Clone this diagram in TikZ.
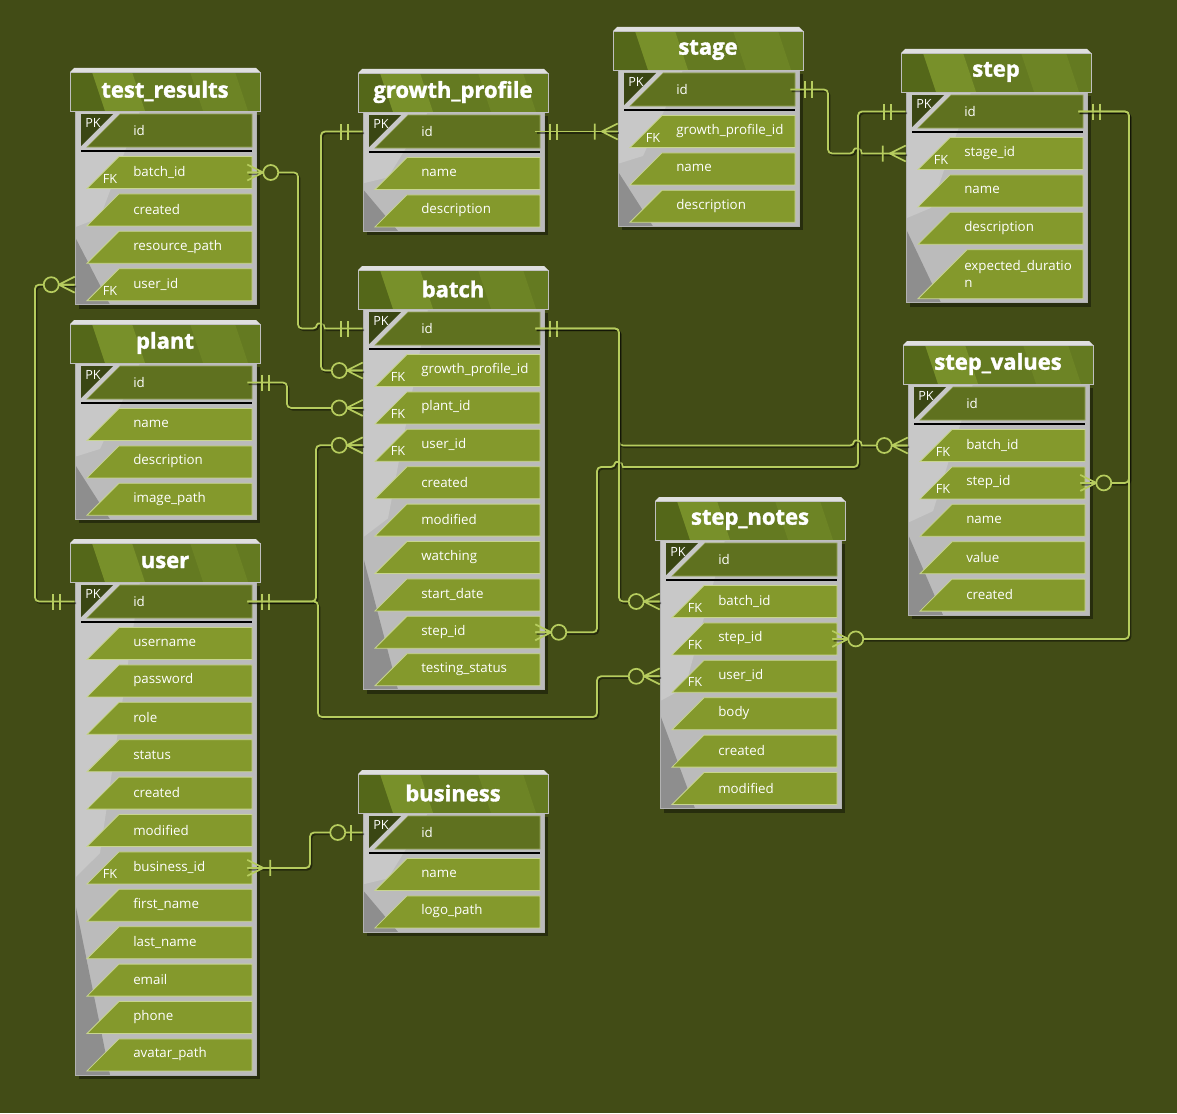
\documentclass[tikz,border=0pt]{standalone}
\usepackage{fontspec}
\setmainfont{Open Sans}
\newfontfamily\ttlfont[BoldFeatures={FakeBold=1.6}]{Open Sans}
\usetikzlibrary{calc}
\definecolor{bg}{HTML}{424C16}
\definecolor{rowc}{HTML}{84992C}
\definecolor{rowln}{HTML}{C8D58F}
\definecolor{pkc}{HTML}{5F711F}
\definecolor{pkdk}{HTML}{3A4613}
\definecolor{hdrc}{HTML}{647A21}
\definecolor{hdrdk}{HTML}{546719}
\definecolor{hdrlt}{HTML}{78902A}
\definecolor{bodyc}{HTML}{BBBBBB}
\definecolor{bodylt}{HTML}{C8C8C8}
\definecolor{bodydk}{HTML}{8E8E8E}
\definecolor{connc}{HTML}{B6CC5E}
\tikzset{
 rowanchor/.style={draw=none, minimum width=129pt, inner sep=0pt},
 fieldtxt/.style={text=white, font=\fontsize{10}{12.5}\selectfont, anchor=west, inner sep=0pt, align=left},
 keytxt/.style={text=white, font=\fontsize{9.5}{11}\selectfont, inner sep=0pt},
 ttltxt/.style={text=white, font=\ttlfont\fontsize{16.5}{18}\selectfont\bfseries, inner sep=0pt},
 conn/.style={draw=connc, line width=1.3pt, rounded corners=3pt,
   preaction={draw=black, opacity=0.45, line width=1.3pt, transform canvas={shift={(1.1pt,-1.3pt)}}}},
 endmark/.style={draw=connc, line width=1.3pt},
 crowzm/.pic={\draw[endmark] (0,-8)--(16,0) (0,0)--(16,0) (0,8)--(16,0);
   \draw[endmark, fill=bg] (23.5,0) circle[radius=7.5];},
 crowone/.pic={\draw[endmark] (15,-8)--(15,8) (22,-8)--(22,8);},
 crowom/.pic={\draw[endmark] (0,-8)--(16,0) (0,0)--(16,0) (0,8)--(16,0) (23,-8)--(23,8);},
 crowzo/.pic={\draw[endmark] (12,-8)--(12,8); \draw[endmark, fill=bg] (25,0) circle[radius=7.5];},
}
\newcommand\ertbl[7]{%
\pgfmathsetmacro\HL{#2}%
\pgfmathsetmacro\HB{#3}%
\pgfmathsetmacro\HR{#2+190}%
\pgfmathsetmacro\BB{#3+81.5+37.4*(#5-1)+#6}%
\fill[black,opacity=0.4] (\HL+9,\HB+4) rectangle (\HR,\BB+4);
\fill[bodyc] (\HL+5,\HB) rectangle (\HR-4,\BB);
\fill[bodylt] (\HL+5,\HB) -- (\HL+70,\HB) -- (\HL+30,{\HB+0.55*(\BB-\HB)}) -- (\HL+5,{\HB+0.6*(\BB-\HB)}) -- cycle;
\fill[bodydk] (\HL+5,{\HB+0.65*(\BB-\HB)}) -- (\HL+40,\BB) -- (\HL+5,\BB) -- cycle;
\draw[gray!60, line width=0.5pt] (\HL+5,\HB) rectangle (\HR-4,\BB);
\fill[hdrc] (\HL,\HB-39) rectangle (\HR,\HB);
\fill[hdrdk] (\HL,\HB-39) -- (\HL+22,\HB-39) -- (\HL+35,\HB) -- (\HL,\HB) -- cycle;
\fill[hdrlt] (\HL+22,\HB-39) -- (\HL+62,\HB-39) -- (\HL+75,\HB) -- (\HL+35,\HB) -- cycle;
\fill[hdrlt!45!hdrc] (\HL+120,\HB-39) -- (\HL+165,\HB-39) -- (\HL+178,\HB) -- (\HL+133,\HB) -- cycle;
\draw[gray!50!white, line width=0.6pt] (\HL,\HB-39) rectangle (\HR,\HB);
\fill[gray!25!white] (\HL,\HB-39) -- (\HL+4,\HB-43) -- (\HR-4,\HB-43) -- (\HR,\HB-39) -- cycle;
\node[ttltxt] (#1) at (\HL+95,\HB-20) {#4};
\fill[pkdk] (\HL+11,\HB+3) -- (\HL+43,\HB+3) -- (\HL+11,\HB+35) -- cycle;
\fill[pkc, draw=rowln!50!pkc, line width=0.5pt] (\HL+50,\HB+3) -- (\HR-8,\HB+3) -- (\HR-8,\HB+36) -- (\HL+17,\HB+36) -- cycle;
\node[rowanchor, minimum height=24.75pt] (#1-pk) at (\HL+91,\HB+19.5) {};
\node[keytxt] at (\HL+23,\HB+12) {PK};
\node[fieldtxt] at (\HL+63,\HB+19.5) {id};
\draw[black, line width=0.8pt] (\HL+11,\HB+40) -- (\HR-8,\HB+40);
\foreach \lab/\fk/\ex [count=\i] in {#7} {
 \pgfmathsetmacro\rt{\HB+45.5+37.4*(\i-1)}
 \pgfmathsetmacro\rb{\rt+32+\ex}
 \pgfmathsetmacro\rc{(\rt+\rb)/2}
 \fill[rowc, draw=rowln, line width=0.6pt] (\HL+17+\rb-\rt,\rt) -- (\HR-8,\rt) -- (\HR-8,\rb) -- (\HL+17,\rb) -- cycle;
 \node[rowanchor, minimum height={(\rb-\rt)*0.75pt}] (#1-\i) at (\HL+91,\rc) {};
 \node[fieldtxt] at (\HL+63,\rc-0.5) {\lab};
 \ifnum\fk=1 \node[keytxt] at (\HL+40,\rc+6) {FK};\fi
}
}
\begin{document}
\begin{tikzpicture}[x=0.75pt,y=-0.75pt]
\useasboundingbox (0,0) rectangle (1177,1113);
\fill[bg] (0,0) rectangle (1177,1113);

\ertbl{tr}{70}{111}{test\_results}{4}{0}{batch\_id/1/0, created/0/0, resource\_path/0/0, user\_id/1/0}
\ertbl{gp}{358}{112}{growth\_profile}{2}{0}{name/0/0, description/0/0}
\ertbl{stg}{613}{70}{stage}{3}{0}{growth\_profile\_id/1/0, name/0/0, description/0/0}
\ertbl{stp}{901}{92}{step}{4}{17}{stage\_id/1/0, name/0/0, description/0/0, expected\_duratio\\n/0/17}
\ertbl{pl}{70}{363}{plant}{3}{0}{name/0/0, description/0/0, image\_path/0/0}
\ertbl{bt}{358}{309}{batch}{9}{0}{growth\_profile\_id/1/0, plant\_id/1/0, user\_id/1/0, created/0/0, modified/0/0, watching/0/0, start\_date/0/0, step\_id/0/0, testing\_status/0/0}
\ertbl{sv}{903}{384}{step\_values}{5}{0}{batch\_id/1/0, step\_id/1/0, name/0/0, value/0/0, created/0/0}
\ertbl{us}{70}{582}{user}{12}{0}{username/0/0, password/0/0, role/0/0, status/0/0, created/0/0, modified/0/0, business\_id/1/0, first\_name/0/0, last\_name/0/0, email/0/0, phone/0/0, avatar\_path/0/0}
\ertbl{bz}{358}{813}{business}{2}{0}{name/0/0, logo\_path/0/0}
\ertbl{sn}{655}{540}{step\_notes}{6}{0}{batch\_id/1/0, step\_id/1/0, user\_id/1/0, body/0/0, created/0/0, modified/0/0}

% test_results.batch_id -> batch.id
\draw[conn] (tr-1.east) -- (298,0 |- tr-1.east) -- (298,0 |- bt-pk.west) -- (317,0 |- bt-pk.west) [sharp corners] .. controls +(0,-6) and +(0,-6) .. ++(8,0) [rounded corners=3pt] -- (bt-pk.west);
\pic at (tr-1.east) {crowzm};
\pic[rotate=180] at (bt-pk.west) {crowone};
% growth_profile.id -> batch.growth_profile_id
\draw[conn] (gp-pk.west) -- (321,0 |- gp-pk.west) -- (321,0 |- bt-1.west) -- (bt-1.west);
\pic[rotate=180] at (gp-pk.west) {crowone};
\pic[rotate=180] at (bt-1.west) {crowzm};
% plant.id -> batch.plant_id
\draw[conn] (pl-pk.east) -- (287,0 |- pl-pk.east) -- (287,0 |- bt-2.west) -- (bt-2.west);
\pic at (pl-pk.east) {crowone};
\pic[rotate=180] at (bt-2.west) {crowzm};
% user.id -> batch.user_id
\draw[conn] (us-pk.east) -- (316,0 |- us-pk.east) -- (316,0 |- bt-3.west) -- (bt-3.west);
\pic at (us-pk.east) {crowone};
\pic[rotate=180] at (bt-3.west) {crowzm};
% user.id -> step_notes.user_id
\draw[conn] (us-pk.east) -- (318,0 |- us-pk.east) -- (318,717) -- (597,717) -- (597,0 |- sn-3.west) -- (sn-3.west);
\pic[rotate=180] at (sn-3.west) {crowzm};
% user.id -> test_results.user_id
\draw[conn] (us-pk.west) -- (35,0 |- us-pk.west) -- (35,0 |- tr-4.west) -- (tr-4.west);
\pic[rotate=180] at (us-pk.west) {crowone};
\pic[rotate=180] at (tr-4.west) {crowzm};
% user.business_id -> business.id
\draw[conn] (us-7.east) -- (310,0 |- us-7.east) -- (310,0 |- bz-pk.west) -- (bz-pk.west);
\pic at (us-7.east) {crowom};
\pic[rotate=180] at (bz-pk.west) {crowzo};
% growth_profile.id -> stage.growth_profile_id
\draw[conn] (gp-pk.east) -- (stg-1.west);
\pic at (gp-pk.east) {crowone};
\pic[rotate=180] at (stg-1.west) {crowom};
% stage.id -> step.stage_id
\draw[conn] (stg-pk.east) -- (828,0 |- stg-pk.east) -- (828,0 |- stp-1.west) -- (854,0 |- stp-1.west) [sharp corners] .. controls +(0,-6) and +(0,-6) .. ++(8,0) [rounded corners=3pt] -- (stp-1.west);
\pic at (stg-pk.east) {crowone};
\pic[rotate=180] at (stp-1.west) {crowom};
% batch.step_id -> step.id
\draw[conn] (bt-8.east) -- (597,0 |- bt-8.east) -- (597,467) -- (615,467) [sharp corners] .. controls +(0,-6) and +(0,-6) .. ++(8,0) [rounded corners=3pt] -- (858,467) -- (858,0 |- stp-pk.west) -- (stp-pk.west);
\pic at (bt-8.east) {crowzm};
\pic[rotate=180] at (stp-pk.west) {crowone};
% batch.id -> step_values.batch_id
\draw[conn] (bt-pk.east) -- (619,0 |- bt-pk.east) -- (619,0 |- sv-1.west) -- (854,0 |- sv-1.west) [sharp corners] .. controls +(0,-6) and +(0,-6) .. ++(8,0) [rounded corners=3pt] -- (sv-1.west);
\pic at (bt-pk.east) {crowone};
\pic[rotate=180] at (sv-1.west) {crowzm};
% batch.id -> step_notes.batch_id
\draw[conn] (bt-pk.east) -- (619,0 |- bt-pk.east) -- (619,0 |- sn-1.west) -- (sn-1.west);
\pic[rotate=180] at (sn-1.west) {crowzm};
% step.id -> step_values.step_id
\draw[conn] (stp-pk.east) -- (1129,0 |- stp-pk.east) -- (1129,0 |- sv-2.east) -- (sv-2.east);
\pic at (stp-pk.east) {crowone};
\pic at (sv-2.east) {crowzm};
% step.id -> step_notes.step_id
\draw[conn] (stp-pk.east) -- (1129,0 |- stp-pk.east) -- (1129,0 |- sn-2.east) -- (sn-2.east);
\pic at (sn-2.east) {crowzm};
\end{tikzpicture}
\end{document}
